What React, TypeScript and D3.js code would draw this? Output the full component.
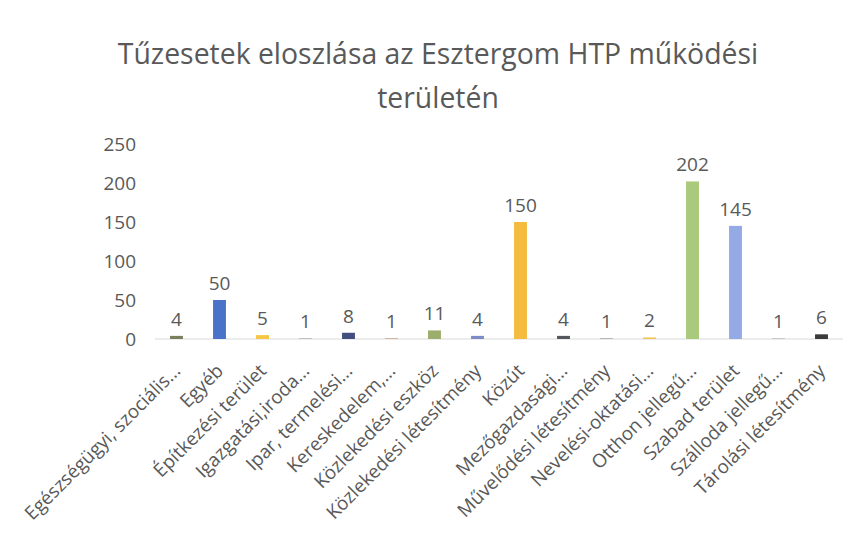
import React from "react";
import * as d3 from "d3";

const categories = [
  "Egészségügyi, szociális...",
  "Egyéb",
  "Építkezési terület",
  "Igazgatási,iroda...",
  "Ipar, termelési...",
  "Kereskedelem,...",
  "Közlekedési eszköz",
  "Közlekedési létesítmény",
  "Közút",
  "Mezőgazdasági...",
  "Művelődési létesítmény",
  "Nevelési-oktatási...",
  "Otthon jellegű...",
  "Szabad terület",
  "Szálloda jellegű...",
  "Tárolási létesítmény",
];
const values = [4, 50, 5, 1, 8, 1, 11, 4, 150, 4, 1, 2, 202, 145, 1, 6];
const colors = [
  "#7b7f5c", "#4a72c8", "#f6c744", "#b8b8b8", "#43507f", "#c9a98a",
  "#9cae6c", "#7d8bc8", "#f5bb3e", "#55575e", "#a8a8a8", "#efc453",
  "#a9c97c", "#95a9e6", "#c0c0c0", "#3b3b3b",
];
const yTicks = [0, 50, 100, 150, 200, 250];
const titleLines = ["Tűzesetek eloszlása az Esztergom HTP működési", "területén"];

const W = 859;
const H = 535;
const FONT = "'Open Sans', sans-serif";
const TEXT = "#595959";

export default function App() {
  const x = d3.scaleBand<string>().domain(categories).range([155, 843]).paddingInner(0.7).paddingOuter(0.35);
  const y = d3.scaleLinear().domain([0, 250]).range([339, 144]);
  return (
    <svg width={W} height={H} style={{ position: "absolute", left: 0, top: 0, background: "#fff" }} fontFamily={FONT}>
      <rect x={0} y={0} width={W} height={H} fill="#fff" />
      {titleLines.map((t, i) => (
        <text key={i} x={438} y={64 + i * 44} textAnchor="middle" fontSize={28.4} fill={TEXT}>
          {t}
        </text>
      ))}
      {yTicks.map((t) => (
        <text key={t} x={136} y={y(t)} dy="0.35em" textAnchor="end" fontSize={19} fill={TEXT}>
          {t}
        </text>
      ))}
      <line x1={155} x2={843} y1={y(0)} y2={y(0)} stroke="#d9d9d9" strokeWidth={1} />
      {categories.map((c, i) => {
        const bx = x(c)!;
        const bw = x.bandwidth();
        const cx = bx + bw / 2;
        return (
          <g key={c}>
            <rect x={bx} y={y(values[i])} width={bw} height={y(0) - y(values[i])} fill={colors[i]} />
            <text x={cx} y={y(values[i]) - 10} textAnchor="middle" fontSize={19} fill={TEXT}>
              {values[i]}
            </text>
            <text
              transform={`translate(${cx + 5},${372}) rotate(-45)`}
              textAnchor="end"
              fontSize={18.8}
              fill={TEXT}
            >
              {c}
            </text>
          </g>
        );
      })}
    </svg>
  );
}
